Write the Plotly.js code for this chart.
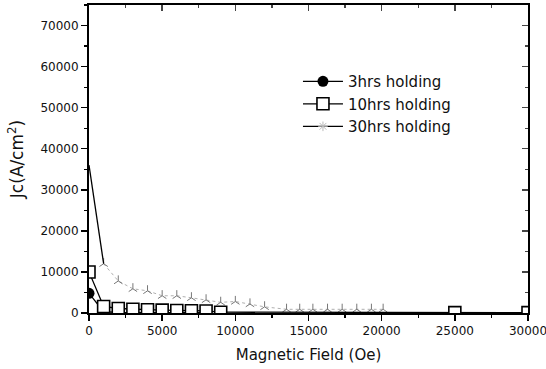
<!DOCTYPE html>
<html>
<head>
<meta charset="utf-8">
<script src="https://cdn.plot.ly/plotly-3.0.1.min.js"></script>
<style>html,body{margin:0;padding:0;background:#fff;}#chart{width:546px;height:369px;}</style>
</head>
<body>
<div id="chart"></div>
<script>
// Data
const field3 = [0, 1000, 2000, 3000, 4000, 5000, 6000, 7000, 8000];
const jc3 = [4800, 300, 150, 120, 100, 90, 80, 70, 60];

const field10 = [0, 1000, 2000, 3000, 4000, 5000, 6000, 7000, 8000, 9000, 25000, 30000];
const jc10 = [10000, 1600, 1100, 900, 800, 700, 600, 550, 500, 200, 100, 100];

const field30 = [0, 1000, 2000, 3000, 4000, 5000, 6000, 7000, 8000, 9000, 10000, 11000, 12000,
  13500, 14400, 15300, 16300, 17300, 18300, 19300, 20100];
const jc30 = [36000, 12000, 7800, 5900, 5400, 4200, 4200, 3700, 3200, 2600, 2800, 2200, 1500,
  900, 900, 900, 900, 900, 900, 900, 900];

const names = ['3hrs holding', '10hrs holding', '30hrs holding'];
const xTitle = 'Magnetic Field (Oe)';
const yTitle = 'Jc(A/cm<sup>2</sup>)';

const traces = [
  {x: field30.slice(1), y: jc30.slice(1), mode: 'lines+markers', showlegend: false,
   line: {color: '#b0b0b0', width: 1, dash: 'dot'},
   marker: {symbol: 'y-up-open', size: 7, color: '#777', line: {color: '#777', width: 1}}},
  {x: field30.slice(0, 2), y: jc30.slice(0, 2), mode: 'lines', showlegend: false,
   line: {color: '#000', width: 1.3}},
  {x: field3, y: jc3, name: names[0], mode: 'lines+markers',
   line: {color: '#000', width: 1.3},
   marker: {symbol: 'circle', size: 11, color: '#000'}},
  {x: field10, y: jc10, name: names[1], mode: 'lines+markers',
   line: {color: '#000', width: 1.3},
   marker: {symbol: 'square', size: 12, color: '#fff', line: {color: '#000', width: 1.6}}},
  {x: [null], y: [null], name: names[2], mode: 'lines+markers',
   line: {color: '#000', width: 1.3},
   marker: {symbol: 'asterisk-open', size: 8, color: '#bbb', line: {color: '#bbb', width: 1}}}
];

const tickFont = {family: 'DejaVu Sans, Arial, sans-serif', size: 12, color: '#111'};
const layout = {
  width: 546, height: 369,
  margin: {l: 89, r: 18, t: 5, b: 56},
  paper_bgcolor: '#fff', plot_bgcolor: '#fff',
  showlegend: true,
  legend: {x: 0.476, y: 0.805, xanchor: 'left', yanchor: 'top', bgcolor: 'rgba(0,0,0,0)',
           font: {family: 'DejaVu Sans, Arial, sans-serif', size: 15, color: '#111'},
           itemwidth: 40, tracegroupgap: 0},
  xaxis: {range: [0, 30000], dtick: 5000, tick0: 0, tickformat: 'd', showgrid: false, zeroline: false,
          ticklabeloverflow: 'allow',
          showline: true, linecolor: '#000', linewidth: 2, ticks: 'outside', ticklen: 6,
          tickwidth: 1.5, tickcolor: '#000', tickfont: tickFont,
          minor: {dtick: 2500, ticks: 'outside', ticklen: 3, tickwidth: 1.2, tickcolor: '#000', showgrid: false},
          title: {text: xTitle, font: {family: 'DejaVu Sans, Arial, sans-serif', size: 15, color: '#111'}, standoff: 12}},
  yaxis: {range: [0, 75000], dtick: 10000, tick0: 0, tickformat: 'd', showgrid: false, zeroline: false,
          showline: true, linecolor: '#000', linewidth: 2, ticks: 'outside', ticklen: 6,
          tickwidth: 1.5, tickcolor: '#000', tickfont: tickFont,
          minor: {dtick: 5000, ticks: 'outside', ticklen: 3, tickwidth: 1.2, tickcolor: '#000', showgrid: false},
          title: {text: yTitle, font: {family: 'DejaVu Sans, Arial, sans-serif', size: 17, color: '#111'}, standoff: 12}},
  xaxis2: {overlaying: 'x', side: 'top', range: [0, 30000], dtick: 5000, showgrid: false, zeroline: false,
           showline: true, linecolor: '#000', linewidth: 2, ticks: 'inside', ticklen: 6, tickwidth: 1.5,
           showticklabels: false,
           minor: {dtick: 2500, ticks: 'inside', ticklen: 3, tickwidth: 1.2, showgrid: false}},
  yaxis2: {overlaying: 'y', side: 'right', range: [0, 75000], dtick: 10000, showgrid: false, zeroline: false,
           showline: true, linecolor: '#000', linewidth: 2, ticks: 'inside', ticklen: 6, tickwidth: 1.5,
           showticklabels: false,
           minor: {dtick: 5000, ticks: 'inside', ticklen: 3, tickwidth: 1.2, showgrid: false}}
};

traces.push({x: [null], y: [null], xaxis: 'x2', yaxis: 'y2', showlegend: false, hoverinfo: 'skip'});

Plotly.newPlot('chart', traces, layout, {staticPlot: true, displayModeBar: false});
</script>
</body>
</html>
